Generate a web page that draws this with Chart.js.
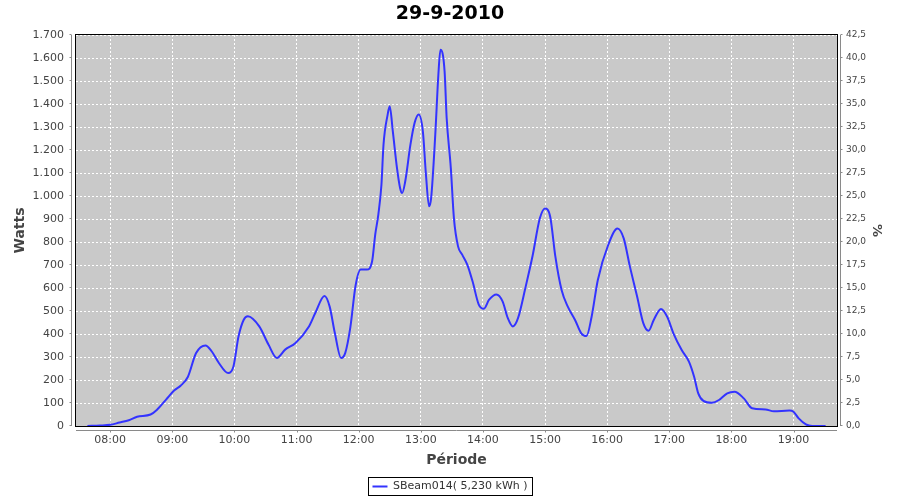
<!DOCTYPE html>
<html>
<head>
<meta charset="utf-8">
<script src="https://cdn.jsdelivr.net/npm/chart.js@4.4.1/dist/chart.umd.min.js"></script>
<style>
  body { margin: 0; background: #fff; }
  #wrap { width: 900px; height: 500px; }
</style>
</head>
<body>
<div id="wrap"><canvas id="chart"></canvas></div>
<script>
// readings taken off the 29-9-2010 curve
const times = ['07:38', '07:50', '08:00', '08:09', '08:18', '08:26', '08:39', '08:45', '08:54', '09:02',
  '09:08', '09:15', '09:23', '09:32', '09:38', '09:45', '09:54', '09:59', '10:04', '10:09',
  '10:13', '10:24', '10:33', '10:41', '10:49', '10:59', '11:12', '11:18', '11:27', '11:32',
  '11:37', '11:43', '11:47', '11:52', '11:57', '12:02', '12:08', '12:13', '12:16', '12:19',
  '12:22', '12:24', '12:28', '12:30', '12:33', '12:37', '12:40', '12:42', '12:45', '12:50',
  '12:54', '12:58', '13:02', '13:05', '13:08', '13:10', '13:14', '13:17', '13:19', '13:23',
  '13:25', '13:29', '13:32', '13:36', '13:40', '13:45', '13:50', '13:56', '14:01', '14:06',
  '14:13', '14:19', '14:24', '14:29', '14:34', '14:41', '14:48', '14:55', '15:00', '15:05',
  '15:10', '15:16', '15:22', '15:29', '15:35', '15:40', '15:45', '15:51', '16:01', '16:10',
  '16:16', '16:22', '16:29', '16:35', '16:40', '16:45', '16:52', '16:58', '17:04', '17:12',
  '17:19', '17:24', '17:28', '17:33', '17:41', '17:48', '17:56', '18:03', '18:12', '18:20',
  '18:33', '18:41', '18:56', '19:00', '19:05', '19:12', '19:18', '19:31']
const watts = [0, 2, 5, 15, 25, 40, 50, 70, 115, 155,
  175, 213, 317, 350, 325, 274, 230, 258, 390, 462,
  477, 433, 353, 296, 332, 361, 433, 490, 565, 519,
  404, 296, 317, 430, 610, 680, 680, 716, 832, 919,
  1049, 1223, 1354, 1390, 1281, 1122, 1035, 1013, 1064, 1223,
  1317, 1354, 1281, 1093, 955, 991, 1267, 1528, 1636, 1542,
  1339, 1122, 904, 781, 745, 701, 629, 528, 510, 549,
  572, 542, 470, 433, 470, 600, 740, 903, 946, 910,
  736, 591, 519, 461, 403, 391, 475, 635, 787, 859,
  816, 693, 562, 446, 414, 461, 509, 475, 403, 330,
  280, 214, 142, 109, 101, 113, 142, 149, 120, 77,
  72, 64, 67, 62, 33, 7, 0, 0]
const hourLabels = ['08:00', '09:00', '10:00', '11:00', '12:00', '13:00', '14:00', '15:00', '16:00', '17:00', '18:00', '19:00']
const seriesName = 'SBeam014( 5,230 kWh )'

const toMin = (s) => Number(s.slice(0, 2)) * 60 + Number(s.slice(3, 5))
const pad2 = (n) => String(n).padStart(2, '0')
const points = times.map((t, i) => ({ x: toMin(t), y: watts[i] }))

const FONT = 'DejaVu Sans'
const AXIS_GRAY = '#8a8a8a'

const plotFrame = {
  id: 'plotFrame',
  beforeDraw(chart) {
    const { ctx, chartArea: a } = chart
    ctx.save()
    ctx.fillStyle = '#c9c9c9'
    ctx.fillRect(a.left, a.top, a.right - a.left, a.bottom - a.top)
    ctx.restore()
  },
  afterDraw(chart) {
    const { ctx, chartArea: a, scales } = chart
    ctx.save()
    ctx.strokeStyle = '#000'
    ctx.lineWidth = 1
    ctx.strokeRect(Math.round(a.left) - 0.5, Math.round(a.top) - 0.5, Math.round(a.right - a.left) + 1, Math.round(a.bottom - a.top) + 1)

    ctx.strokeStyle = AXIS_GRAY
    ctx.beginPath()
    // left axis
    const lx = Math.round(a.left) - 4.5
    ctx.moveTo(lx, a.top); ctx.lineTo(lx, a.bottom)
    scales.y.ticks.forEach(t => {
      const y = Math.round(scales.y.getPixelForValue(t.value)) - 0.5
      ctx.moveTo(lx - 2, y); ctx.lineTo(lx, y)
    })
    // right axis
    const rx = Math.round(a.right) + 3.5
    ctx.moveTo(rx, a.top); ctx.lineTo(rx, a.bottom)
    scales.y1.ticks.forEach(t => {
      const y = Math.round(scales.y1.getPixelForValue(t.value)) - 0.5
      ctx.moveTo(rx, y); ctx.lineTo(rx + 2, y)
    })
    // bottom axis
    const by = Math.round(a.bottom) + 4.5
    ctx.moveTo(a.left, by); ctx.lineTo(a.right, by)
    scales.x.ticks.forEach(t => {
      const x = Math.round(scales.x.getPixelForValue(t.value)) + 0.5
      ctx.moveTo(x, by); ctx.lineTo(x, by + 2)
    })
    ctx.stroke()

    // legend frame
    const hb = chart.legend.legendHitBoxes[0]
    if (hb) {
      ctx.strokeStyle = '#000'
      ctx.strokeRect(Math.round(hb.left) - 3.5, Math.round(hb.top) - 3.5, Math.round(hb.width) + 9, Math.round(hb.height) + 7)
    }
    ctx.restore()
  }
}

new Chart(document.getElementById('chart'), {
  type: 'line',
  data: {
    datasets: [{
      label: seriesName,
      data: points,
      borderColor: '#3333ff',
      backgroundColor: '#3333ff',
      borderWidth: 2,
      pointRadius: 0,
      cubicInterpolationMode: 'monotone',
      fill: false,
      yAxisID: 'y',
    }],
  },
  options: {
    responsive: true,
    maintainAspectRatio: false,
    animation: false,
    layout: { padding: 0 },
    plugins: {
      title: {
        display: true,
        text: '29-9-2010',
        color: '#000',
        font: { family: FONT, size: 19, weight: 'bold' },
        padding: { top: 3, bottom: 9.2 },
      },
      legend: {
        position: 'bottom',
        maxHeight: 19,
        labels: {
          color: '#333',
          font: { family: FONT, size: 11 },
          boxWidth: 15,
          boxHeight: 2,
          padding: 0,
          generateLabels(chart) {
            return Chart.defaults.plugins.legend.labels.generateLabels(chart).map(l => ({ ...l, lineWidth: 0 }))
          },
        },
      },
      tooltip: { enabled: false },
    },
    scales: {
      x: {
        type: 'linear',
        min: 447,
        max: 1182,
        afterBuildTicks(scale) {
          scale.ticks = hourLabels.map(h => ({ value: toMin(h) }))
        },
        afterFit(scale) { scale.height = 55 },
        ticks: {
          color: '#444',
          font: { family: FONT, size: 11 },
          padding: 8,
          maxRotation: 0,
          autoSkip: false,
          callback: (v) => pad2(Math.floor(v / 60)) + ':' + pad2(v % 60),
        },
        grid: { color: '#fff', drawTicks: false },
        border: { display: false, dash: [2, 2] },
        title: {
          display: true,
          text: 'Période',
          color: '#444',
          font: { family: FONT, size: 14, weight: 'bold' },
          padding: { top: 0, bottom: 12.6 },
        },
      },
      y: {
        position: 'left',
        min: 0,
        max: 1700,
        afterFit(scale) { scale.width = 76 },
        ticks: {
          stepSize: 100,
          color: '#444',
          font: { family: FONT, size: 11 },
          padding: 12,
          callback: (v) => String(v).replace(/\B(?=(\d{3})+(?!\d))/g, '.'),
        },
        grid: { color: '#fff', drawTicks: false },
        border: { display: false, dash: [2, 2] },
        title: {
          display: true,
          text: 'Watts',
          color: '#444',
          font: { family: FONT, size: 14, weight: 'bold' },
          padding: { top: 12, bottom: 0 },
        },
      },
      y1: {
        position: 'right',
        min: 0,
        max: 42.5,
        afterFit(scale) { scale.width = 63 },
        ticks: {
          stepSize: 2.5,
          color: '#444',
          font: { family: FONT, size: 9 },
          padding: 9,
          callback: (v) => v.toFixed(1).replace('.', ','),
        },
        grid: { drawOnChartArea: false, drawTicks: false },
        border: { display: false },
        title: {
          display: true,
          text: '%',
          color: '#444',
          font: { family: FONT, size: 13, weight: 'bold' },
          padding: { top: 16, bottom: 0 },
        },
      },
    },
  },
  plugins: [plotFrame],
})
</script>
</body>
</html>
